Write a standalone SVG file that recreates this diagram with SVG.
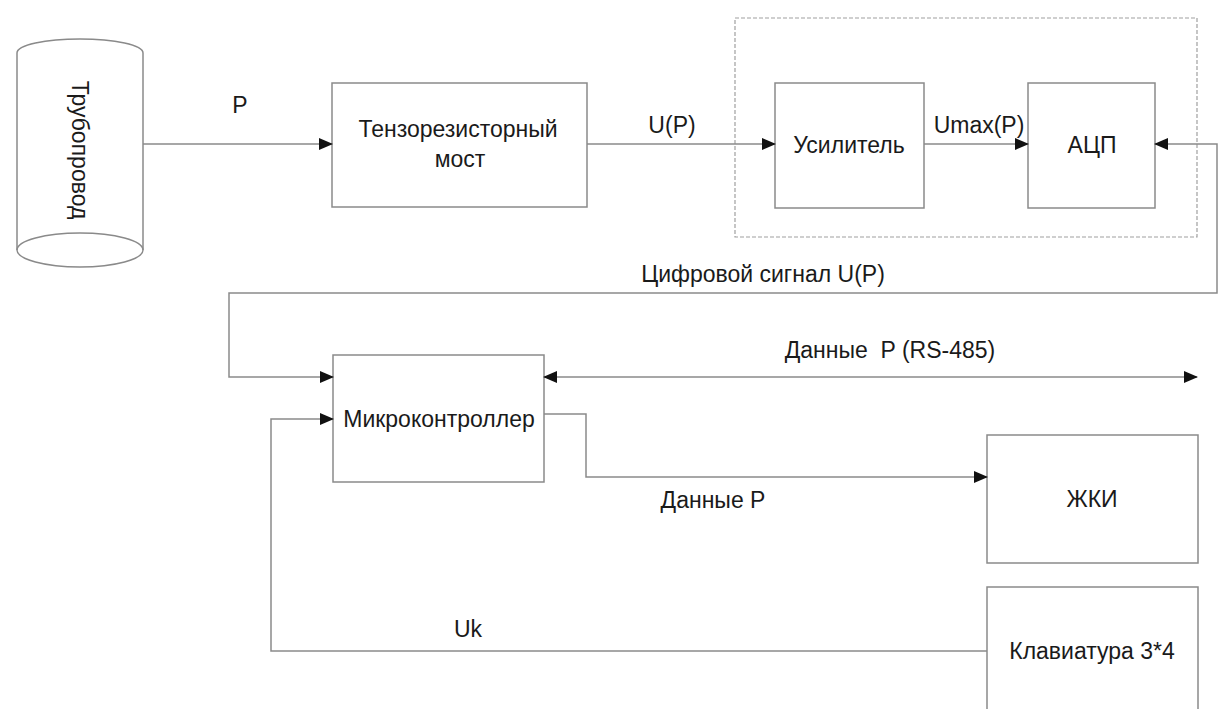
<svg xmlns="http://www.w3.org/2000/svg" width="1219" height="709" viewBox="0 0 1219 709">
<style>
.box{fill:#fff;stroke:#8a8a8a;stroke-width:1.5}
.ln{fill:none;stroke:#8a8a8a;stroke-width:1.5}
.t{font-family:"Liberation Sans",Arial,sans-serif;font-size:23px;fill:#1a1a1a}
.m{text-anchor:middle}
</style>
<defs>
<marker id="ah" markerUnits="userSpaceOnUse" markerWidth="14" markerHeight="12" refX="13" refY="6" orient="auto-start-reverse">
<path d="M0,0 L14,6 L0,12 z" fill="#111"/>
</marker>
</defs>
<rect width="1219" height="709" fill="#fff"/>
<g id="pipeline">
<path class="ln" d="M17,53 A63,14 0 0 1 143,53 M17,53 V250 M143,53 V250"/>
<ellipse class="ln" cx="80" cy="250" rx="63" ry="17"/>
<text class="t m" transform="translate(72,150) rotate(90)">Трубопровод</text>
</g>
<g id="group-amp-adc">
<rect x="735" y="18" width="462" height="219" fill="none" stroke="#a0a0a0" stroke-width="1.2" stroke-dasharray="4,2"/>
</g>
<g id="bridge">
<rect class="box" x="332" y="83" width="255" height="124"/>
<text class="t m" x="458" y="137">Тензорезисторный</text>
<text class="t m" x="460" y="167">мост</text>
</g>
<g id="amplifier">
<rect class="box" x="775" y="83" width="149" height="125"/>
<text class="t m" x="849" y="153">Усилитель</text>
</g>
<g id="adc">
<rect class="box" x="1028" y="83" width="127" height="125"/>
<text class="t m" x="1092" y="153">АЦП</text>
</g>
<g id="mcu">
<rect class="box" x="333" y="355" width="211" height="127"/>
<text class="t m" x="439" y="427">Микроконтроллер</text>
</g>
<g id="lcd">
<rect class="box" x="987" y="435" width="211" height="128"/>
<text class="t m" x="1092" y="507">ЖКИ</text>
</g>
<g id="keyboard">
<rect class="box" x="987" y="587" width="211" height="135"/>
<text class="t m" x="1092" y="659">Клавиатура 3*4</text>
</g>
<g id="connectors">
<path class="ln" d="M143,144 H332" marker-end="url(#ah)"/>
<path class="ln" d="M587,144 H775" marker-end="url(#ah)"/>
<path class="ln" d="M924,144 H1028" marker-end="url(#ah)"/>
<path class="ln" d="M1155,144 H1217 V293 H229 V377 H333" marker-start="url(#ah)" marker-end="url(#ah)"/>
<path class="ln" d="M544,377 H1197" marker-start="url(#ah)" marker-end="url(#ah)"/>
<path class="ln" d="M544,414 H586 V477 H987" marker-end="url(#ah)"/>
<path class="ln" d="M987,651 H271 V419 H333" marker-end="url(#ah)"/>
<text class="t m" x="240" y="113">P</text>
<text class="t m" x="672" y="133">U(P)</text>
<text class="t m" x="979" y="133">Umax(P)</text>
<text class="t m" x="763" y="282">Цифровой сигнал U(P)</text>
<text class="t m" x="890" y="358" xml:space="preserve">Данные  P (RS-485)</text>
<text class="t m" x="713" y="508">Данные P</text>
<text class="t m" x="468" y="637">Uk</text>
</g>
</svg>
